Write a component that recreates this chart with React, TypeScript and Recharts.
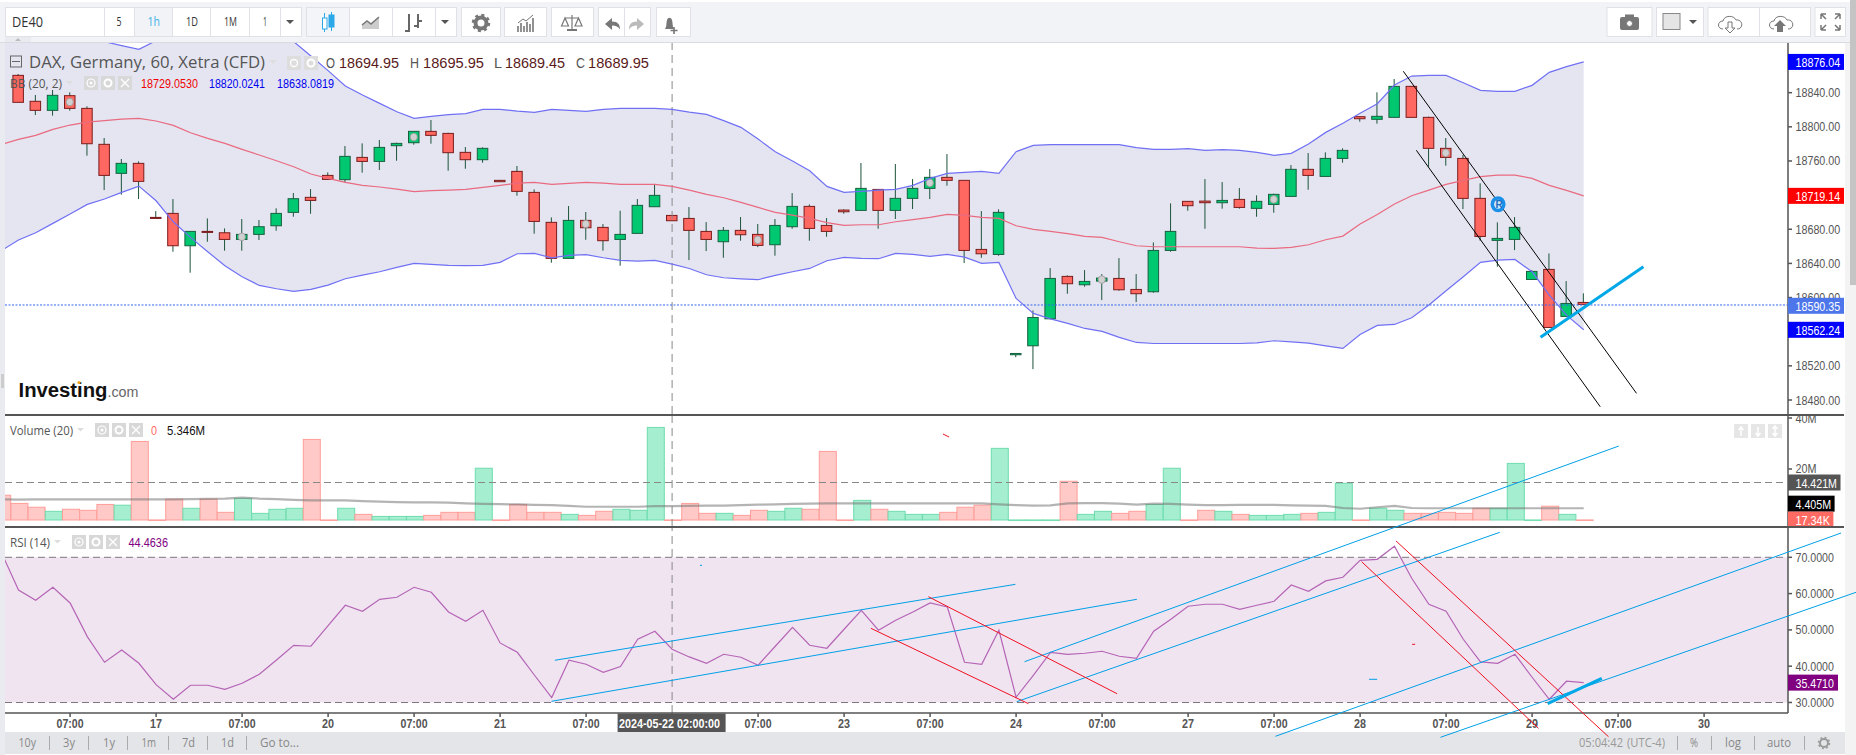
import { Area, Bar, ComposedChart, Line, ReferenceArea, ReferenceDot, ReferenceLine, XAxis, YAxis } from "recharts";

// candles, index 0 to 91
const opens = [18860.3,18829.9,18819.3,18836.5,18821.6,18779.5,18745.5,18757.2,18693.9,18698.6,18660.7,18677.5,18675.9,18668.1,18674,18684.1,18699.8,18717.4,18743.1,18738.1,18764.2,18759.5,18777.9,18781.4,18794.7,18792.3,18770.1,18761.5,18737.3,18747.8,18723.2,18688.1,18645.9,18690.4,18682.2,18668.1,18675.2,18706.4,18696.2,18692.7,18677.5,18665.4,18678.7,18674,18661.9,18683,18706.8,18684.5,18702.5,18702.1,18726.7,18702.1,18716.2,18727.9,18740.8,18737.3,18656.4,18650.5,18533,18543.5,18575.1,18624.8,18615,18619.3,18622.4,18609.5,18606.8,18655.2,18712.7,18713,18711.1,18715,18704.5,18709.1,18718.5,18750.2,18741.9,18763,18811.9,18808.8,18811.1,18847.4,18811.1,18774.8,18763,18716.2,18667,18668.1,18621.2,18633,18577.9,18594.3];
const highs = [18861.9,18837.3,18843.1,18840.4,18824,18786.9,18762.3,18759.5,18701.3,18715.4,18677.5,18692.7,18681,18692,18690.8,18704.5,18722.4,18727.1,18746.6,18777.5,18780.6,18784.5,18781.4,18794.7,18808,18793.1,18776.3,18775.9,18737.3,18754.1,18726.7,18693.9,18707.2,18700.2,18686.1,18701.7,18715.4,18733,18696.6,18706,18688.4,18682.6,18694.3,18686.1,18692,18722.4,18709.1,18693.1,18703.3,18757.6,18726.7,18756.4,18738.8,18750.5,18768.1,18737.3,18701.3,18703.3,18534.5,18584.9,18634.5,18626,18632.2,18627.5,18646.2,18627.5,18664.6,18710.3,18712.7,18738.8,18735.3,18728.3,18719.7,18721.6,18755.2,18769.3,18770.1,18774.8,18812.3,18840.4,18856,18847.4,18811.9,18786.9,18767,18733.8,18688.1,18694.3,18632.2,18651.7,18619.3,18604.9];
const lows = [18828.7,18813.8,18813.1,18818.9,18766.2,18725.9,18720.5,18715.4,18692.7,18653.7,18629.1,18665.4,18654.9,18654.9,18667.4,18678.3,18694.7,18698.2,18738.4,18735.3,18746.3,18749.4,18760.3,18779.1,18780.2,18748.6,18750.9,18758,18735.7,18719.3,18674.8,18640.8,18645.9,18667.7,18654.9,18637.3,18675.2,18706.4,18690,18643.9,18654.5,18646.6,18666.6,18659.1,18649,18680.6,18666.6,18671.3,18698.2,18702.1,18680.6,18692,18703.7,18715.4,18731,18640.4,18646.6,18649,18530.2,18516.2,18575.1,18604.5,18612.7,18597,18608,18594.7,18605.6,18653.7,18701.7,18680.6,18704.1,18704.1,18694.7,18699.4,18718.5,18726.3,18741.9,18758,18806,18803.7,18811.1,18811.1,18753.3,18754.5,18703.7,18666.6,18636.1,18655.6,18621.2,18565,18577.9,18592];
const closes = [18828.7,18819.3,18836.9,18821.6,18780.2,18743.1,18757.2,18736.1,18692.7,18660.7,18677.5,18676.3,18668.1,18674,18683,18698.6,18715.8,18713.8,18738.4,18765.4,18759.5,18775.9,18780.6,18794.7,18790,18769.7,18761.5,18774.8,18735.7,18724.4,18689.2,18645.9,18690.4,18681.8,18666.6,18674,18708,18719.7,18690,18678.7,18668.1,18678.7,18673.6,18661.1,18684.5,18706.8,18681,18677.5,18700.5,18727.9,18702.1,18716.2,18727.9,18740.8,18737.3,18655.2,18651.3,18699.8,18534.5,18576.7,18622.4,18616.2,18618.9,18622.8,18609.1,18604.5,18655.2,18677.5,18707.6,18711.1,18713.8,18705.6,18712.7,18720.9,18750.2,18743.1,18763,18772.4,18809.5,18812.3,18847.4,18811.1,18774.8,18764.2,18716.2,18671.6,18669.3,18682.2,18630.6,18565,18593.1,18592];

// bollinger bands, index -1 to 91
const bbUpper = [19003.3,18987.7,18972,18956.4,18940.8,18921.3,18899.8,18895.1,18890.8,18900.9,18911.5,18925.2,18936.9,18940.8,18936.9,18929.1,18917.3,18899.8,18883,18865.8,18847.8,18837.3,18827.5,18817.7,18809.9,18812.3,18814.2,18815.4,18820.5,18820.5,18818.5,18817,18820.5,18819.3,18818.1,18820.5,18821.6,18821.6,18821.6,18820.5,18817.3,18814.6,18807.2,18799.4,18785.7,18770.9,18759.9,18748.6,18730.2,18723.2,18724.4,18725.9,18726.7,18731.4,18739.6,18745.5,18746.6,18747.8,18745.5,18770.9,18778.3,18779.1,18779.1,18779.1,18779.1,18779.1,18775.6,18773.6,18773.6,18774.4,18772.4,18773.2,18772.4,18770.1,18766.6,18768.9,18779.9,18793.5,18804.1,18815.8,18827.1,18849,18859.5,18860.3,18860.3,18851.7,18842.7,18841.6,18841.6,18848.6,18863.8,18870.5,18876.04];
const bbMiddle = [18779.5,18785.3,18790,18797,18802.1,18805.6,18807.2,18809.1,18809.9,18806.8,18801.7,18793.1,18786.5,18780.6,18773.6,18767,18760.3,18753.3,18744.7,18739.6,18734.9,18731.4,18729.5,18727.1,18724,18725.2,18725.9,18726.7,18729.1,18731.4,18734.1,18734.9,18732.6,18733.8,18734.9,18734.1,18732.6,18732.6,18732.6,18730.2,18725.9,18720.9,18716.9,18711.5,18705.6,18699.8,18696.6,18692.7,18687.7,18684.5,18685.3,18685.3,18688.8,18691.2,18693.9,18697.4,18696.2,18693.9,18692.7,18684.1,18679.9,18677.5,18674.8,18671.6,18670.5,18665.4,18660.7,18659.5,18659.5,18659.5,18659.5,18659.5,18659.5,18658,18657.6,18658.8,18661.9,18667.7,18672,18686.1,18697.4,18709.5,18719.3,18725.9,18732.6,18737.3,18741.6,18743.5,18743.5,18739.6,18731.4,18725.5,18719.14];
const bbLower = [18654.9,18667.4,18675.9,18686.9,18697.8,18709.1,18715.4,18723.2,18730.6,18713.4,18688.8,18670.5,18653.7,18637.3,18624.4,18614.2,18610.3,18607.2,18609.5,18614.6,18622,18626.3,18630.2,18635.3,18640,18638.8,18637.7,18637.3,18637.7,18641.2,18651.3,18651.7,18646.6,18649.4,18650.2,18646.6,18643.5,18642.7,18643.5,18639.2,18634.1,18626.7,18623.2,18622,18620.9,18626,18630.2,18634.1,18643.1,18647,18645.9,18645.5,18651.7,18650.5,18648.2,18650.5,18647.4,18640,18641.2,18599,18581.4,18575.1,18569.7,18563.8,18560.3,18553.3,18547.4,18546.2,18546.2,18546.2,18546.2,18546.2,18546.2,18547,18549.4,18548.2,18546.6,18543.5,18540.4,18556.8,18567.4,18568.5,18576.3,18591.2,18608,18624.4,18641.2,18643.9,18644.7,18630.2,18602.9,18579.4,18562.24];

// volume in millions, index -1 to 91
const volumes = [9.7,6.5,5,3.4,4.2,3.8,6.1,5.8,30.8,0.02,8.2,4.6,8.2,3,8.5,2.6,4.2,4.6,31.6,0.02,4.6,2.2,1.4,1.4,1.4,1.8,3,3,20.3,0.02,6.1,3,3,2.2,1.8,3.4,4.2,3.8,36.3,0.02,6.5,2.6,2.6,1.8,3.8,3.4,4.6,4.2,26.9,0.02,7.7,4.2,3.4,2.2,2.2,3,5,5.8,28.1,0.02,0.02,0.02,15.2,2.2,3.4,2.6,3.4,6.1,20.3,0.02,3.8,3.4,2.2,1.8,1.8,2.2,2.6,3,14.4,0.02,4.6,3.8,2.6,2.6,3,2.6,4.6,4.6,22.2,0.02,5.4,2.2,0.02];
const volumeDirs = "rrrgrrrgrr" + "rgrrggggrr" + "grgggrrrgr" + "rrrgrrgggr" + "rrgrrggrrr" + "grgggrrrgg" + "ggrggrrggr" + "rgrgggrggr" + "ggrrrrrggg" + "rgr";
const volumeSma = [8.1,8,8.1,8.1,8.1,8.1,8.1,8.1,8.1,8.1,8.1,8.2,8.3,8.4,8.8,8.4,8.2,7.9,7.7,7.7,7.7,7.4,7.2,7,6.9,6.9,6.8,6.5,6.3,6.2,6.1,5.9,5.8,5.5,5.2,5.2,5.2,5.2,5.4,5.4,5.5,5.6,5.6,5.8,6,6.1,6.3,6.4,6.5,6.5,6.5,6.5,6.5,6.5,6.5,6.5,6.5,6.5,6.1,5.8,5.6,5.7,6.5,6.6,6.6,6.4,6,6.4,6.3,6,5.8,5.8,5.9,5.9,5.9,5.7,5.6,5.5,4.7,4.4,5,5.5,4.7,4.6,4.6,4.6,4.6,4.6,4.6,4.6,4.6,4.6,4.6];

// rsi, index -1 to 91
const rsiValues = [71.38,61,58.16,61.74,57.42,48.15,41.08,44.48,40.8,34.93,30.89,34.74,34.74,33.64,35.29,37.77,41.72,45.76,45.49,51.18,56.78,55.13,58.43,58.99,61.74,60.36,54.95,52.37,55.4,46.41,43.83,37.5,31.35,41.63,40.53,38.33,39.89,47.42,49.62,44.66,42.55,40.8,43.28,42.46,40.25,45.49,50.72,45.76,44.94,50.17,55.4,49.9,52.65,54.95,57.42,56.32,41.08,40.53,49.9,31.44,37.5,43.83,43.28,43.56,44.11,42.73,42.18,49.62,52.93,56.51,57.06,57.06,55.68,56.78,57.88,62.38,60.64,63.49,64.5,69.18,69.45,73.04,64.22,57.06,55.13,47.42,41.17,40.8,43.28,36.95,30.89,35.85,35.48];

const priceTicks = [18840,18800,18760,18720,18680,18640,18600,18560,18520,18480];
const priceTags = [18876.04,18719.14,18590.35,18562.24];
const priceTagColors = ["#0000ff","#ff0000","#4d76ea","#0000ff"];
const volumeTicks = [40,20];
const volumeTags = [14.7,6.4,0.15];
const volumeTagLabels = ["14.421M","4.405M","17.34K"];
const volumeTagColors = ["#555555","#000000","#ff6b63"];
const rsiTicks = [70,60,50,40,30];
const xTickIndex = [3,8,13,18,23,28,33,38,43,48,53,58,63,68,73,78,83,88,93,98];
const xTickLabels = ["07:00","17","07:00","20","07:00","21","07:00","2024-05-22 02:00:00","07:00","23","07:00","24","07:00","27","07:00","28","07:00","29","07:00","30"];
const crosshairIndex = 38;
const lastPriceLine = 18591.3;

// trend lines as [index, value, index, value]
const blackLines = [[80.51,18865.1,94.07,18487.8],[81.27,18772.5,91.96,18472.1]];
const priceThickLine = [88.49,18553.5,94.47,18636.2];
const rsiBlueLines = [[31.18,41.63,57.96,62.56],[30.99,30.33,65.02,58.43],[58.49,41.24,93.04,100.66],[58.03,30.22,86.12,76.89],[73.08,20.69,105.96,76.69],[82.67,20.41,106.83,60.36],[39.62,67.8,39.74,67.8],[78.52,36.39,78.99,36.39]];
const rsiThickLine = [88.9,29.67,92.05,36.67];
const rsiRedLines = [[52.9,59.15,63.87,32.42],[49.56,50.44,58.72,29.67],[80.09,74.49,92.44,20.58],[78.09,68.79,88.37,22.89],[81.02,46.03,81.2,46.03],[53.75,103.97,54.1,103.14]];

type Row = {
  k: number; open: number | null; high: number | null; low: number | null; close: number | null;
  upper: number | null; middle: number | null; lower: number | null;
  volume: number | null; dir: string; sma: number | null; rsi: number | null;
};

const rows: Row[] = [];
for (let k = -1; k <= 102; k++) {
  const s = k + 1;
  rows.push({
    k,
    open: opens[k] ?? null,
    high: highs[k] ?? null,
    low: lows[k] ?? null,
    close: closes[k] ?? null,
    upper: bbUpper[s] ?? null,
    middle: bbMiddle[s] ?? null,
    lower: bbLower[s] ?? null,
    volume: volumes[s] ?? null,
    dir: volumeDirs[s] ?? "r",
    sma: volumeSma[s] ?? null,
    rsi: rsiValues[s] ?? null,
  });
}

const AXIS_FONT = "'Liberation Sans', Arial, sans-serif";
const UI_FONT = "'Open Sans', sans-serif";
const xPadding = { left: -12.3, right: 6.5 };
const priceDomain = [18463.6, 18898.2];
const volumeDomain = [-2.75, 41.57];
const rsiDomain = [27.1, 78.35];
const overlayRsiDomain = [15.54, 109.48];
const overlayX = [-0.785, 106.83];
const plotEnd = 102.88;

function T({ x, y, w, s = 13, c = "#555", b = false, f = AXIS_FONT, children }: any) {
  return (
    <text x={x} y={y} textLength={w} lengthAdjust="spacingAndGlyphs" fontSize={s} fill={c} fontWeight={b ? 700 : 400} fontFamily={f}>
      {children}
    </text>
  );
}

function Candle(props: any) {
  const { x, y, width, height, payload } = props;
  if (payload.high == null) return null;
  const cx = x + width / 2;
  const unit = height / (payload.high - payload.low);
  const top = y + (payload.high - Math.max(payload.open, payload.close)) * unit;
  const bot = y + (payload.high - Math.min(payload.open, payload.close)) * unit;
  const up = payload.close >= payload.open;
  return (
    <g>
      <line x1={cx} x2={cx} y1={y} y2={y + height} stroke="#1d5339" strokeWidth={1} />
      <rect x={x} y={top} width={width} height={Math.max(bot - top, 1)} fill={up ? "#00c871" : "#ff6860"} stroke={up ? "#17603f" : "#7a1c1c"} strokeWidth={1} />
      {payload.k % 10 === 3 && <ellipse cx={cx} cy={(top + bot) / 2} rx={3.6} ry={3.8} fill="#d0d0d0" stroke="#999" strokeWidth={0.8} />}
    </g>
  );
}

function VolumeBar(props: any) {
  const { x, y, width, height, payload } = props;
  if (payload.volume == null) return null;
  const up = payload.dir === "g";
  return <rect x={x + 1} y={y} width={width} height={Math.max(height, 0.5)} fill={up ? "#a6eed0" : "#ffc9c7"} stroke={up ? "#6fdcae" : "#ff9e99"} strokeWidth={1} />;
}

function PriceTick({ x, y, payload }: any) {
  const tag = priceTags.indexOf(payload.value);
  if (tag >= 0) {
    return (
      <g>
        <rect x={x - 4} y={y - 8} width={56} height={16} fill={priceTagColors[tag]} />
        <T x={x + 3.5} y={y + 5} w={44.7} c="#fff">{payload.value.toFixed(2)}</T>
      </g>
    );
  }
  return <T x={x + 3.5} y={y + 4.5} w={44.7}>{payload.value.toFixed(2)}</T>;
}

function VolumeTick({ x, y, payload }: any) {
  const tag = volumeTags.indexOf(payload.value);
  if (tag >= 0) {
    const label = volumeTagLabels[tag];
    const w = [41.5, 35.6, 34.4][tag];
    return (
      <g>
        <rect x={x - 4} y={y - 8} width={w + 11} height={16} fill={volumeTagColors[tag]} />
        <T x={x + 3.5} y={y + 5} w={w} c="#fff">{label}</T>
      </g>
    );
  }
  return <T x={x + 3.5} y={y + 4.5} w={21}>{payload.value + "M"}</T>;
}

function RsiTick({ x, y, payload }: any) {
  if (payload.value === 35.471) {
    return (
      <g>
        <rect x={x - 4} y={y - 8} width={50} height={16} fill="#800080" />
        <T x={x + 3.5} y={y + 5} w={38.4} c="#fff">35.4710</T>
      </g>
    );
  }
  return <T x={x + 3.5} y={y + 4.5} w={38.4}>{payload.value.toFixed(4)}</T>;
}

function TimeTick({ x, y, payload }: any) {
  const label = xTickLabels[xTickIndex.indexOf(payload.value)];
  if (payload.value === crosshairIndex) {
    return (
      <g>
        <rect x={x - 54.5} y={0.5 + y - 4} width={108} height={19} fill="#555" />
        <T x={x - 53} y={y + 11} w={100.8} c="#fff" b>{label}</T>
      </g>
    );
  }
  const w = label.length > 2 ? 27 : 12;
  return <T x={x - w / 2} y={y + 11} w={w} b>{label}</T>;
}

function RBadge({ cx, cy }: any) {
  return (
    <g>
      <ellipse cx={cx} cy={cy} rx={7.5} ry={8} fill="#1a90e8" />
      <ellipse cx={cx} cy={cy} rx={4} ry={4.5} fill="#cfe6f8" />
      <text x={cx - 2.5} y={cy + 4} fontSize={10} fill="#1a70c0" fontWeight={700} fontFamily={AXIS_FONT}>R</text>
    </g>
  );
}

function Box({ x, w, bg = "#fff" }: any) {
  return <rect x={x + 0.5} y={7.5} width={w} height={29} fill={bg} stroke="#dfe1e6" strokeWidth={1} />;
}

function Caret({ x, c = "#555" }: any) {
  return <path d={`M${x - 4} 20 h8 l-4 4 z`} fill={c} />;
}

function LegendIcons({ x, y }: any) {
  return (
    <g>
      <rect x={x} y={y} width={14} height={14} fill="#d8d8d8" />
      <rect x={x + 17} y={y} width={14} height={14} fill="#d8d8d8" />
      <rect x={x + 34} y={y} width={14} height={14} fill="#d8d8d8" />
      <circle cx={x + 7} cy={y + 7} r={4} fill="none" stroke="#fff" strokeWidth={1.2} />
      <circle cx={x + 7} cy={y + 7} r={1.5} fill="#fff" />
      <circle cx={x + 24} cy={y + 7} r={3.5} fill="none" stroke="#fff" strokeWidth={2} />
      <path d={`M${x + 37} ${y + 3}l8 8M${x + 45} ${y + 3}l-8 8`} stroke="#fff" strokeWidth={1.3} />
    </g>
  );
}

function Chrome() {
  const gray = "#777";
  return (
    <svg width={1856} height={755} style={{ position: "absolute", left: 0, top: 0, pointerEvents: "none" }}>
      {/* toolbar */}
      <Box x={5} w={99} />
      <Box x={104} w={30} />
      <Box x={134} w={38} bg="#f1f3f7" />
      <Box x={172} w={38} />
      <Box x={210} w={39} />
      <Box x={249} w={31} />
      <Box x={280} w={21} />
      <T x={12} y={27} w={31} s={15} c="#333" f={UI_FONT}>DE40</T>
      <T x={116.5} y={26} w={5} c="#333" f={UI_FONT}>5</T>
      <T x={147.5} y={26} w={12.5} c="#3fb2e5" f={UI_FONT}>1h</T>
      <T x={186} y={26} w={12} c="#333" f={UI_FONT}>1D</T>
      <T x={224} y={26} w={13} c="#333" f={UI_FONT}>1M</T>
      <T x={263} y={26} w={4} c="#333" f={UI_FONT}>1</T>
      <Caret x={290} />
      <Box x={306} w={43} bg="#f4f5f8" />
      <Box x={349} w={43} />
      <Box x={392} w={43} />
      <Box x={435} w={21} />
      <path d="M324.5 13v19M331.5 12v19" stroke="#2aa8e8" strokeWidth={1} />
      <rect x={322.5} y={18} width={4.5} height={11} fill="#fff" stroke="#2aa8e8" />
      <rect x={329} y={15} width={5} height={12} fill="#2aa8e8" stroke="#2aa8e8" />
      <path d="M362 29v-5l5-3 4 2 8-6v12z" fill="#ccc" />
      <path d="M362 25l5-4 4 3 8-7" fill="none" stroke={gray} strokeWidth={1.5} />
      <path d="M409 14v18M405 31h4M418 14v14M418 21h4M414 26h4" stroke="#666" strokeWidth={2} fill="none" />
      <Caret x={445} />
      <Box x={461} w={39} />
      <circle cx={481} cy={23} r={5.5} fill="none" stroke={gray} strokeWidth={4} />
      <circle cx={481} cy={23} r={8} fill="none" stroke={gray} strokeWidth={2.5} strokeDasharray="3 3.3" />
      <Box x={504} w={42} />
      <path d="M518 32v-6M521 32v-9M524 32v-6M527 32v-10M530 32v-8M533 32v-14" stroke={gray} strokeWidth={1.6} />
      <path d="M518 23l5-4 3 2 7-6" stroke={gray} fill="none" />
      <Box x={551} w={42} />
      <path d="M572 15v14M565 18h14M561.5 26l3.5-8 3.5 8zM575 26l3.5-8 3.5 8z" stroke={gray} strokeWidth={1.2} fill="none" />
      <path d="M567 30h10" stroke={gray} strokeWidth={2} />
      <Box x={598} w={26} />
      <Box x={624} w={26} />
      <path d="M605 24l7-6v3.5c6 0 8 3 8 8-2-3-4-4-8-4v4.5z" fill={gray} />
      <path d="M644 24l-7-6v3.5c-6 0-8 3-8 8 2-3 4-4 8-4v4.5z" fill="#bbb" />
      <Box x={656} w={34} />
      <path d="M665 29c2-3 1-6 2-9 1-3 4-3 5 0 1 3 0 6 2 9z" fill={gray} />
      <path d="M674 27v7M670.5 30.5h7" stroke={gray} strokeWidth={1.6} />
      <Box x={1606.5} w={45} />
      <rect x={1620} y={17} width={19} height={13} rx={2} fill={gray} />
      <rect x={1625} y={14.5} width={9} height={4} fill={gray} />
      <circle cx={1629.5} cy={23.5} r={3} fill="#fff" stroke={gray} />
      <Box x={1656} w={47} />
      <rect x={1663} y={13.5} width={17} height={16} fill="#e5e5e5" stroke="#888" />
      <Caret x={1693} />
      <Box x={1707.5} w={51.5} />
      <Box x={1759} w={51} />
      <path d="M1723 29c-6 0-6-8 0-8 1-6 11-6 13-1 7-1 8 9 1 9" fill="none" stroke={gray} strokeWidth={1} />
      <path d="M1728 22h4v6h3l-5 5-5-5h3z" fill="#fff" stroke={gray} />
      <path d="M1774 29c-6 0-6-8 0-8 1-6 11-6 13-1 7-1 8 9 1 9" fill="none" stroke={gray} strokeWidth={1} />
      <path d="M1780 20l6 6h-3v6h-6v-6h-3z" fill={gray} />
      <Box x={1814.5} w={30.5} />
      <path d="M1821 14h5M1821 14v5M1821 14l5 5M1840 14h-5M1840 14v5M1840 14l-5 5M1821 30h5M1821 30v-5M1821 30l5-5M1840 30h-5M1840 30v-5M1840 30l-5-5" stroke={gray} strokeWidth={1.5} />
      <rect x={5} y={37} width={26} height={5} fill="#e9ebf0" />
      <path d="M15 41l3-3 3 3z" fill="#bbb" />
      <rect x={1} y={374} width={3} height={14} fill="#ccc" />

      {/* main legend */}
      <rect x={10.5} y={56} width={11} height={11} fill="none" stroke="#666" />
      <path d="M12 61.5h8" stroke="#666" />
      <T x={29} y={68} w={236} s={16} c="#555" f={UI_FONT}>DAX, Germany, 60, Xetra (CFD)</T>
      <path d="M269 60h8l-4 4z" fill="#ddd" />
      <rect x={287} y={56} width={14} height={14} fill="#ddd" />
      <rect x={304} y={56} width={14} height={14} fill="#ddd" />
      <circle cx={294} cy={63} r={3.5} fill="none" stroke="#fff" strokeWidth={1.3} />
      <circle cx={311} cy={63} r={3.5} fill="none" stroke="#fff" strokeWidth={2} />
      <T x={326} y={68} w={9} s={15} c="#555">O</T>
      <T x={339} y={68} w={60} s={15} c="#5a1a1a">18694.95</T>
      <T x={410} y={68} w={9} s={15} c="#555">H</T>
      <T x={423} y={68} w={61} s={15} c="#5a1a1a">18695.95</T>
      <T x={494} y={68} w={8} s={15} c="#555">L</T>
      <T x={505} y={68} w={60} s={15} c="#5a1a1a">18689.45</T>
      <T x={576} y={68} w={9} s={15} c="#555">C</T>
      <T x={588} y={68} w={61} s={15} c="#5a1a1a">18689.95</T>
      <T x={10} y={88} w={52} s={12.5} c="#555" f={UI_FONT}>BB (20, 2)</T>
      <path d="M66 81h7l-3.5 3.5z" fill="#ddd" />
      <LegendIcons x={84} y={76} />
      <T x={141} y={88} w={57} s={13} c="#f00000">18729.0530</T>
      <T x={209} y={88} w={56} s={13} c="#0000ee">18820.0241</T>
      <T x={277} y={88} w={57} s={13} c="#0000ee">18638.0819</T>

      {/* logo */}
      <T x={18.5} y={397} w={89} s={20} c="#111" b>Investing</T>
      <T x={107.5} y={397} w={31} s={15} c="#666">.com</T>
      <circle cx={79} cy={382.5} r={1.6} fill="#f5a623" />

      {/* volume legend */}
      <T x={10} y={435} w={63} s={12.5} c="#555" f={UI_FONT}>Volume (20)</T>
      <path d="M77 428h7l-3.5 3.5z" fill="#ddd" />
      <LegendIcons x={95} y={423} />
      <T x={151} y={435} w={6} s={13} c="#ff6860">0</T>
      <T x={167} y={435} w={38} s={13} c="#111">5.346M</T>
      <rect x={1734} y={424} width={14} height={14} fill="#e6e6e6" />
      <rect x={1751} y={424} width={14} height={14} fill="#e6e6e6" />
      <rect x={1768} y={424} width={14} height={14} fill="#e6e6e6" />
      <path d="M1741 427v9M1738.5 430l2.5-3 2.5 3M1758 427v9M1755.5 433l2.5 3 2.5-3M1775 426v10M1772.5 429l2.5-3 2.5 3M1772.5 433l2.5 3 2.5-3" stroke="#fff" strokeWidth={1.5} fill="none" />

      {/* rsi legend */}
      <T x={10} y={547} w={40} s={12.5} c="#555" f={UI_FONT}>RSI (14)</T>
      <path d="M54 540h7l-3.5 3.5z" fill="#ddd" />
      <LegendIcons x={72} y={535} />
      <T x={128.5} y={547} w={39.5} s={13} c="#800080">44.4636</T>

      {/* bottom bar */}
      <T x={18.5} y={747} w={17.5} s={13} c="#888" f={UI_FONT}>10y</T>
      <T x={63} y={747} w={12} s={13} c="#888" f={UI_FONT}>3y</T>
      <T x={103} y={747} w={12} s={13} c="#888" f={UI_FONT}>1y</T>
      <T x={141.5} y={747} w={14.5} s={13} c="#888" f={UI_FONT}>1m</T>
      <T x={182} y={747} w={13} s={13} c="#888" f={UI_FONT}>7d</T>
      <T x={221} y={747} w={13} s={13} c="#888" f={UI_FONT}>1d</T>
      <T x={260} y={747} w={39} s={13} c="#888" f={UI_FONT}>Go to...</T>
      <path d="M49.5 736v14M88.5 736v14M127.5 736v14M168.5 736v14M207.5 736v14M246.5 736v14M1677.5 736v14M1711.5 736v14M1754.5 736v14M1804.5 736v14" stroke="#aaa" />
      <T x={1579} y={747} w={44} s={13} c="#999" f={UI_FONT}>05:04:42</T>
      <T x={1627} y={747} w={38} s={13} c="#999" f={UI_FONT}>(UTC-4)</T>
      <T x={1690} y={747} w={8} s={13} c="#888" f={UI_FONT}>%</T>
      <T x={1725} y={747} w={16} s={13} c="#888" f={UI_FONT}>log</T>
      <T x={1767} y={747} w={24} s={13} c="#888" f={UI_FONT}>auto</T>
      <circle cx={1824} cy={743} r={4} fill="none" stroke="#999" strokeWidth={2} />
      <circle cx={1824} cy={743} r={5.5} fill="none" stroke="#999" strokeWidth={1.5} strokeDasharray="2 2.3" />
    </svg>
  );
}

function segment(l: number[]) {
  return [{ x: l[0], y: l[1] }, { x: l[2], y: l[3] }];
}

// chart without series on a plain number x axis, for what is not tied to a candle
function Pane({ top, height, domain, children }: any) {
  return (
    <div style={{ position: "absolute", left: 5, top }}>
      <ComposedChart width={1851} height={height} data={rows} margin={{ top: 0, right: 0, bottom: 0, left: 0 }}>
        <XAxis type="number" dataKey="k" hide domain={overlayX} allowDataOverflow />
        <YAxis hide type="number" domain={domain} allowDataOverflow />
        {children}
      </ComposedChart>
    </div>
  );
}

export default function App() {
  return (
    <div style={{ position: "fixed", left: 0, top: 0, width: 1856, height: 755, overflow: "hidden", background: "#fff" }}>
      <div style={{ position: "absolute", left: 0, top: 2, width: 1856, height: 40, background: "#f1f3f7" }} />
      <div style={{ position: "absolute", left: 0, top: 42, width: 1856, height: 1, background: "#d9dbe0" }} />
      <div style={{ position: "absolute", left: 0, top: 43, width: 5, height: 712, background: "#e9ebf0" }} />
      <div style={{ position: "absolute", left: 5, top: 732, width: 1840, height: 22, background: "#e4e5e8" }} />
      <div style={{ position: "absolute", left: 1845, top: 43, width: 11, height: 712, background: "#f3f3f3" }} />
      <div style={{ position: "absolute", left: 1850, top: 0, width: 6, height: 285, background: "#c4c4c4" }} />

      {/* pink rsi zone lies under the rsi chart and runs up to the axis */}
      <Pane top={414} height={341} domain={overlayRsiDomain}>
        <ReferenceArea x1={overlayX[0]} x2={plotEnd} y1={30} y2={70} fill="#f0e4f1" fillOpacity={1} stroke="none" />
      </Pane>

      <div style={{ position: "absolute", left: 5, top: 43 }}>
        <ComposedChart width={1851} height={371} data={rows} margin={{ top: 0, right: 0, bottom: 0, left: 0 }}>
          <XAxis dataKey="k" scale="band" hide padding={xPadding} />
          <YAxis orientation="right" width={68} type="number" domain={priceDomain} allowDataOverflow ticks={[...priceTicks, ...priceTags]} interval={0} tick={PriceTick} tickSize={4} tickMargin={0} stroke="#555" strokeWidth={1.5} />
          <Area dataKey={(d: Row) => (d.upper == null ? null : [d.lower, d.upper])} stroke="none" fill="#e4e5f1" fillOpacity={1} dot={false} activeDot={false} isAnimationActive={false} />
          <ReferenceLine x={crosshairIndex} stroke="#888" strokeDasharray="8 5" />
          <Line dataKey="upper" stroke="#7070f5" strokeWidth={1.2} dot={false} activeDot={false} isAnimationActive={false} />
          <Line dataKey="middle" stroke="#ea6a80" strokeWidth={1.2} dot={false} activeDot={false} isAnimationActive={false} />
          <Line dataKey="lower" stroke="#7070f5" strokeWidth={1.2} dot={false} activeDot={false} isAnimationActive={false} />
          <Bar dataKey={(d: Row) => (d.high == null ? null : [d.low, d.high])} barSize={10.5} shape={Candle} isAnimationActive={false} />
        </ComposedChart>
      </div>

      <div style={{ position: "absolute", left: 5, top: 414 }}>
        <ComposedChart width={1851} height={113} data={rows} margin={{ top: 0, right: 0, bottom: 0, left: 0 }} barCategoryGap={0}>
          <XAxis dataKey="k" scale="band" hide padding={xPadding} />
          <YAxis orientation="right" width={68} type="number" domain={volumeDomain} allowDataOverflow ticks={[...volumeTicks, ...volumeTags]} interval={0} tick={VolumeTick} tickSize={4} tickMargin={0} stroke="#555" strokeWidth={1.5} />
          <Bar dataKey="volume" shape={VolumeBar} isAnimationActive={false} />
          <Line dataKey="sma" stroke="#777" strokeOpacity={0.55} strokeWidth={2.2} dot={false} activeDot={false} isAnimationActive={false} />
          <ReferenceLine x={crosshairIndex} stroke="#888" strokeDasharray="8 5" />
        </ComposedChart>
      </div>

      <div style={{ position: "absolute", left: 5, top: 527 }}>
        <ComposedChart width={1851} height={205} data={rows} margin={{ top: 0, right: 0, bottom: 0, left: 0 }}>
          <XAxis dataKey="k" scale="band" padding={xPadding} height={19} ticks={xTickIndex} interval={0} tick={TimeTick} tickSize={4} tickMargin={0} stroke="#555" strokeWidth={1.5} />
          <YAxis orientation="right" width={68} type="number" domain={rsiDomain} allowDataOverflow ticks={[...rsiTicks, 35.471]} interval={0} tick={RsiTick} tickSize={4} tickMargin={0} stroke="#555" strokeWidth={1.5} />
          <ReferenceLine x={crosshairIndex} stroke="#888" strokeDasharray="8 5" />
          <Line dataKey="rsi" stroke="#b565b5" strokeWidth={1.2} dot={false} activeDot={false} isAnimationActive={false} />
        </ComposedChart>
      </div>

      <div style={{ position: "absolute", left: 5, top: 414, width: 1839, height: 1.5, background: "#555" }} />
      <div style={{ position: "absolute", left: 5, top: 526, width: 1839, height: 1.5, background: "#555" }} />

      {/* level lines and drawn trend lines on the price scale */}
      <Pane top={43} height={371} domain={priceDomain}>
        <ReferenceLine segment={segment([overlayX[0], lastPriceLine, plotEnd, lastPriceLine])} stroke="#3366ee" strokeDasharray="2 1.5" ifOverflow="visible" />
        {blackLines.map((l, i) => (
          <ReferenceLine key={i} segment={segment(l)} stroke="#000" ifOverflow="visible" />
        ))}
        <ReferenceLine segment={segment(priceThickLine)} stroke="#00a8e8" strokeWidth={3} ifOverflow="visible" />
        <ReferenceDot x={86.02} y={18709.3} r={8} shape={RBadge} ifOverflow="visible" />
      </Pane>

      <Pane top={414} height={113} domain={volumeDomain}>
        <ReferenceLine segment={segment([overlayX[0], volumeTags[0], plotEnd, volumeTags[0]])} stroke="#888" strokeDasharray="7 4" ifOverflow="visible" />
      </Pane>

      {/* level lines and drawn trend lines on the rsi scale, they run over the other panes */}
      <Pane top={414} height={341} domain={overlayRsiDomain}>
        <ReferenceLine segment={segment([overlayX[0], 70, plotEnd, 70])} stroke="#7f7680" strokeDasharray="7 4" ifOverflow="visible" />
        <ReferenceLine segment={segment([overlayX[0], 30, plotEnd, 30])} stroke="#7f7680" strokeDasharray="7 4" ifOverflow="visible" />
        {rsiBlueLines.map((l, i) => (
          <ReferenceLine key={i} segment={segment(l)} stroke="#00a0e6" ifOverflow="visible" />
        ))}
        {rsiRedLines.map((l, i) => (
          <ReferenceLine key={i} segment={segment(l)} stroke="#f01020" ifOverflow="visible" />
        ))}
        <ReferenceLine segment={segment(rsiThickLine)} stroke="#00a8e8" strokeWidth={3} ifOverflow="visible" />
      </Pane>

      <Chrome />
    </div>
  );
}
